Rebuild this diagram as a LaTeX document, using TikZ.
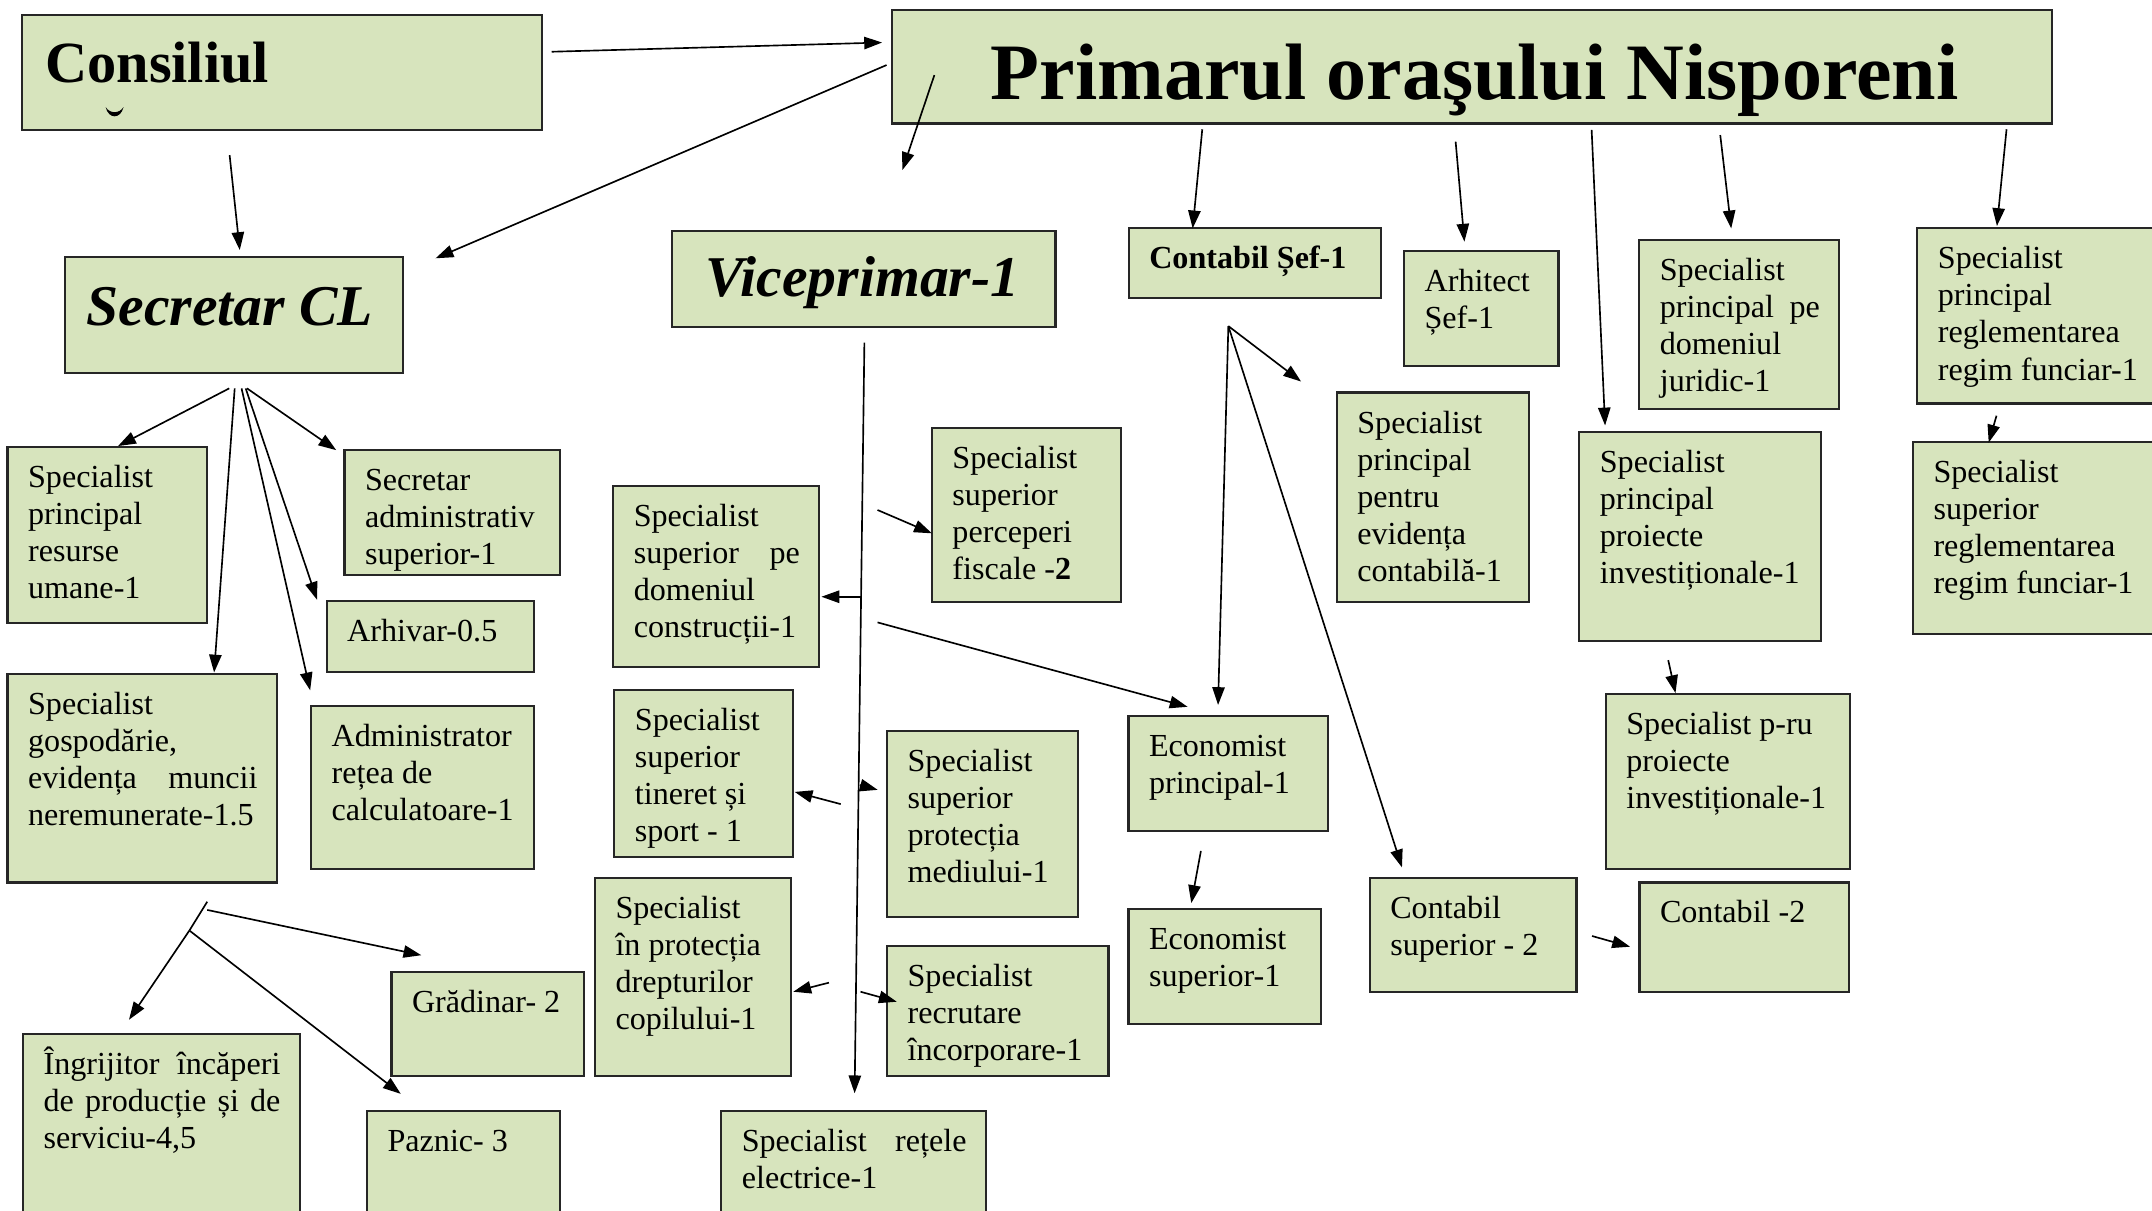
\documentclass[tikz,border=0pt]{standalone}
\usepackage{fontspec}
\setmainfont{Liberation Serif}
\usetikzlibrary{arrows.meta}
\definecolor{boxgreen}{HTML}{D7E4BD}
\tikzset{
  box/.style={draw=black!85, line width=1.6pt, fill=boxgreen, inner sep=0pt, outer sep=0pt},
  txt/.style={anchor=base west, inner sep=0pt, outer sep=0pt},
  conn/.style={line width=1.2pt, -{Triangle[length=13pt,width=9pt]}},
  plain/.style={line width=1.2pt},
}
\newcommand{\orgbox}[6]{%
  \node[box, minimum width={(#4-#2)*1pt}, minimum height={(#5-#3)*1pt}] (#1) at ({(#2+#4)/2},{(#3+#5)/2}) {};
  \pgfmathsetlengthmacro{\orgtw}{(#4-#2-29)*1pt}%
  \node[txt] (#1-t) at ({#2+15},{#3+29.5}) {\parbox[t]{\orgtw}{\fontsize{23.4}{27}\selectfont\hyphenpenalty=10000\exhyphenpenalty=10000 #6}};
}
\newcommand{\titlebox}[5]{%
  \node[box, minimum width={(#4-#2)*1pt}, minimum height={(#5-#3)*1pt}] (#1) at ({(#2+#4)/2},{(#3+#5)/2}) {};
}
\begin{document}
\begin{tikzpicture}[x=1pt,y=-1pt]
\useasboundingbox (0,0) rectangle (1568,882);
\clip (0,0) rectangle (1568,882);
\fill[white] (0,0) rectangle (1568,882);

% ---- title boxes ----
\titlebox{consiliul}{16.3}{10.9}{395}{94.7}
\node[txt] (consiliul-t) at (33,60) {\fontsize{42.5}{48}\selectfont\bfseries Consiliul};
\fill (77,78) .. controls (79,87) and (88,87) .. (90,78) .. controls (87,83) and (80,83) .. cycle;

\titlebox{primar}{649.7}{7}{1495.3}{90}
\node[txt] (primar-t) at (722,72.5) {\fontsize{58.3}{64}\selectfont\bfseries Primarul oraşului Nisporeni};

\titlebox{secretar}{47.4}{187.5}{293.7}{271.6}
\node[txt] (secretar-t) at (63,237) {\fontsize{42}{48}\selectfont\bfseries\itshape Secretar CL};

\titlebox{vice}{489.9}{168.1}{769}{238.5}
\node[txt] (vice-t) at (514,216) {\fontsize{42}{48}\selectfont\bfseries\itshape Viceprimar-1};

% ---- left column (Secretar) ----
\orgbox{resurse}{5.5}{325.5}{150.6}{454.2}{Specialist\\principal\\resurse\\umane-1}
\orgbox{secadmin}{251}{328}{408}{418.7}{Secretar\\administrativ\\superior-1}
\orgbox{arhivar}{238}{437.7}{389}{489.4}{Arhivar-0.5}
\orgbox{gosp}{5.5}{491}{201.6}{643}{Specialist\\gospodărie,\\evidența\hfill muncii\\neremunerate-1.5}
\orgbox{retea}{226.7}{514.2}{389}{633.2}{Administrator\\rețea de\\calculatoare-1}
\orgbox{gradinar}{285.2}{708}{425.3}{784}{Grădinar- 2}
\orgbox{ingrijitor}{16.8}{753.4}{218.3}{895}{Îngrijitor\hfill încăperi\\de\hfill producție\hfill și\hfill de\\serviciu-4,5}
\orgbox{paznic}{267.4}{809.3}{408}{895}{Paznic- 3}

% ---- Viceprimar column ----
\orgbox{constr}{446.8}{353.9}{596.8}{486}{Specialist\\superior\hfill pe\\domeniul\\construcții-1}
\orgbox{fiscal}{679}{311.6}{817}{438.4}{Specialist\\superior\\perceperi\\fiscale -\textbf{2}}
\orgbox{tineret}{447.6}{502.8}{578}{624.2}{Specialist\\superior\\tineret și\\sport - 1}
\orgbox{mediu}{646.3}{532.4}{785.3}{668}{Specialist\\superior\\protecția\\mediului-1}
\orgbox{copil}{433.5}{639.5}{576.5}{784}{Specialist\\în protecția\\drepturilor\\copilului-1}
\orgbox{recrutare}{646.3}{689}{807.6}{784}{Specialist\\recrutare\\încorporare-1}
\orgbox{retele}{525.5}{809.3}{718.2}{895}{Specialist\hfill rețele\\electrice-1}

% ---- right part (Primar) ----
\orgbox{contsef}{822.4}{166.4}{1006}{217.4}{\textbf{Contabil Șef-1}}
\orgbox{arhitect}{1023}{182.7}{1135.6}{266.5}{Arhitect\\Șef-1}
\orgbox{juridic}{1194.4}{174.9}{1340}{298.3}{Specialist\\principal\hfill pe\\domeniul\\juridic-1}
\orgbox{funciarA}{1397}{166.4}{1590}{294}{Specialist\\principal\\reglementarea\\regim funciar-1}
\orgbox{eviden}{974}{286}{1114}{438.4}{Specialist\\principal\\pentru\\evidența\\contabilă-1}
\orgbox{proiect}{1150.7}{315}{1326.6}{466.8}{Specialist\\principal\\proiecte\\investiționale-1}
\orgbox{funciarB}{1393.8}{322.3}{1590}{462.2}{Specialist\\superior\\reglementarea\\regim funciar-1}
\orgbox{econA}{822.2}{521.7}{967.6}{605.5}{Economist\\principal-1}
\orgbox{econB}{822.2}{662.5}{962.4}{746}{Economist\\superior-1}
\orgbox{contsup}{998}{639.5}{1148.6}{723}{Contabil\\superior - 2}
\orgbox{contab}{1194.5}{643}{1347.5}{723}{Contabil -2}
\orgbox{pru}{1170}{505.7}{1348}{633.2}{Specialist p-ru\\proiecte\\investiționale-1}

% ---- connector end points ----
\coordinate (a1s) at (402,37.7);   \coordinate (a1e) at (642.7,31);
\coordinate (a2s) at (646,47.4);   \coordinate (a2e) at (317.4,188.2);
\coordinate (a3s) at (680.8,54.7); \coordinate (a3e) at (657.5,123.9);
\coordinate (a4s) at (167.3,113);  \coordinate (a4e) at (174.7,182.2);
\coordinate (a5s) at (876,94.2);   \coordinate (a5e) at (869,166.4);
\coordinate (a6s) at (1060.6,103.2); \coordinate (a6e) at (1067,176.1);
\coordinate (a7s) at (1159.7,94.7); \coordinate (a7e) at (1169.5,310);
\coordinate (a8s) at (1253.4,98.4); \coordinate (a8e) at (1261.4,166.4);
\coordinate (a9s) at (1462,94.2);  \coordinate (a9e) at (1455,164.7);
\coordinate (a10s) at (1454.7,302.9); \coordinate (a10e) at (1449,322.5);
\coordinate (a11s) at (1215.5,481); \coordinate (a11e) at (1220.8,505);
% Contabil sef fan
\coordinate (cf) at (895,237.6);
\coordinate (cf1) at (948,278);
\coordinate (cf2) at (887.5,513.7);
\coordinate (cf3) at (1021.5,632);
\coordinate (a15s) at (875,620);   \coordinate (a15e) at (868,658);
\coordinate (a16s) at (1160,682);  \coordinate (a16e) at (1187.7,689.8);
% Viceprimar trunk
\coordinate (vt) at (629.8,249.7); \coordinate (vb) at (622.7,796.6);
\coordinate (v1s) at (627.4,434.8); \coordinate (v1e) at (598.5,434.8);
\coordinate (v2s) at (639.4,371.6); \coordinate (v2e) at (679,388.6);
\coordinate (v3s) at (639.4,453.5); \coordinate (v3e) at (865.3,515);
\coordinate (v4s) at (612.6,585.9); \coordinate (v4e) at (579,577);
\coordinate (v5s) at (626.5,572);   \coordinate (v5e) at (639.5,575.5);
\coordinate (v6s) at (604,716);     \coordinate (v6e) at (578,722.6);
\coordinate (v7s) at (627,722.6);   \coordinate (v7e) at (653.4,729.9);
% Secretar fan
\coordinate (s1s) at (167,283); \coordinate (s1e) at (86,325);
\coordinate (s2s) at (180,283); \coordinate (s2e) at (245,328);
\coordinate (s3s) at (179,283); \coordinate (s3e) at (231,437);
\coordinate (s4s) at (176,283); \coordinate (s4e) at (226,503);
\coordinate (s5s) at (171,283); \coordinate (s5e) at (156,490);
% bottom-left fan
\coordinate (b0) at (151,657); \coordinate (b1) at (138,678);
\coordinate (b2s) at (151,663); \coordinate (b2e) at (307,696);
\coordinate (b3e) at (94,743);
\coordinate (b4e) at (292,797);

% ---- connectors ----
\draw[conn] (a1s) -- (a1e);
\draw[conn] (a2s) -- (a2e);
\draw[conn] (a3s) -- (a3e);
\draw[conn] (a4s) -- (a4e);
\draw[conn] (a5s) -- (a5e);
\draw[conn] (a6s) -- (a6e);
\draw[conn] (a7s) -- (a7e);
\draw[conn] (a8s) -- (a8e);
\draw[conn] (a9s) -- (a9e);
\draw[conn] (a10s) -- (a10e);
\draw[conn] (a11s) -- (a11e);
\draw[conn] (cf) -- (cf1);
\draw[conn] (cf) -- (cf2);
\draw[conn] (cf) -- (cf3);
\draw[conn] (a15s) -- (a15e);
\draw[conn] (a16s) -- (a16e);
\draw[conn] (vt) -- (vb);
\draw[conn] (v1s) -- (v1e);
\draw[conn] (v2s) -- (v2e);
\draw[conn] (v3s) -- (v3e);
\draw[conn] (v4s) -- (v4e);
\draw[conn] (v5s) -- (v5e);
\draw[conn] (v6s) -- (v6e);
\draw[conn] (v7s) -- (v7e);
\draw[conn] (s1s) -- (s1e);
\draw[conn] (s2s) -- (s2e);
\draw[conn] (s3s) -- (s3e);
\draw[conn] (s4s) -- (s4e);
\draw[conn] (s5s) -- (s5e);
\draw[plain] (b0) -- (b1);
\draw[conn] (b2s) -- (b2e);
\draw[conn] (b1) -- (b3e);
\draw[conn] (b1) -- (b4e);
\end{tikzpicture}
\end{document}
